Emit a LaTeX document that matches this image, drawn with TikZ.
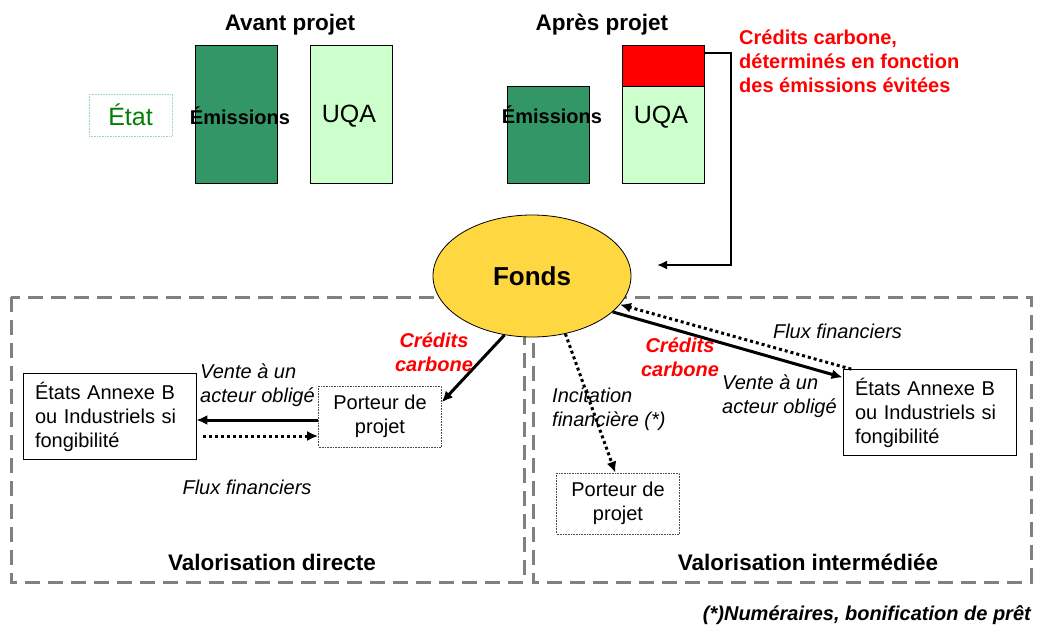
\documentclass[tikz,border=0pt]{standalone}
\usepackage{fontspec}
\setmainfont{Liberation Sans}
\usepackage{xcolor}
\usepackage{tikz}
\usetikzlibrary{shapes.geometric}
\usetikzlibrary{arrows.meta}

\definecolor{emisgreen}{RGB}{51,150,102}
\definecolor{uqagreen}{RGB}{204,255,204}
\definecolor{fondsyellow}{RGB}{255,215,64}
\definecolor{etatgreen}{RGB}{0,128,0}
\definecolor{etatline}{RGB}{160,210,210}
\definecolor{zonegray}{RGB}{128,128,128}

\tikzset{
    colbar/.style = {draw = black, line width = 0.8pt, minimum width = 82pt, inner sep = 0pt},
    headtxt/.style = {font = \fontsize{22.5}{27}\selectfont\bfseries},
    txt/.style = {inner sep = 0pt, font = \fontsize{20}{24}\selectfont},
    itxt/.style = {inner sep = 0pt, font = \fontsize{20}{24}\selectfont\itshape},
    credtxt/.style = {inner sep = 0pt, text = red, align = center,
        font = \fontsize{20}{24}\selectfont\bfseries\itshape},
    statebox/.style = {draw = black, line width = 0.8pt, minimum width = 173pt,
        minimum height = 86pt, text width = 149pt, inner xsep = 12pt, align = left,
        font = \fontsize{20}{24}\selectfont},
    carrier/.style = {draw = black!70, densely dotted, line width = 0.6pt,
        minimum width = 123pt, minimum height = 61pt, align = center,
        font = \fontsize{20}{24}\selectfont},
    zone/.style = {draw = zonegray, line width = 3pt, dash pattern = on 15pt off 8pt},
    sale/.style = {line width = 3pt, -{Latex[length = 11pt, width = 10pt]}},
    flux/.style = {line width = 3pt, dash pattern = on 3pt off 3pt,
        -{Latex[length = 11pt, width = 10pt]}}
}

\begin{document}
\begin{tikzpicture}[x = 1pt, y = -1pt]
        \useasboundingbox (0, 0) rectangle (1037, 627);

        \draw[zone] (11, 297) rectangle (524, 582);
        \draw[zone] (533, 297) rectangle (1031, 582);

        \node[headtxt] (avant) at (290, 25) {Avant projet};
        \node[headtxt] (apres) at (602, 25) {Après projet};

        \node[draw = etatline, densely dotted, line width = 0.6pt, minimum width = 83pt,
            minimum height = 42pt, text = etatgreen, font = \fontsize{25}{30}\selectfont]
            (etat) at (130.5, 115) {État};

        \node[colbar, fill = emisgreen, minimum height = 138pt] (emisA) at (236.5, 114) {};
        \node[colbar, fill = uqagreen, minimum height = 138pt] (uqaA) at (351, 114) {};
        \node[txt, font = \fontsize{20}{24}\selectfont\bfseries] (emisAtxt) at (240, 116) {Émissions};
        \node[txt, font = \fontsize{25}{30}\selectfont] (uqaAtxt) at (349, 116) {UQA};

        \node[colbar, fill = emisgreen, minimum height = 97pt] (emisB) at (548, 134.5) {};
        \node[colbar, fill = red, minimum height = 41pt] (credit) at (663, 65.5) {};
        \node[colbar, fill = uqagreen, minimum height = 97pt] (uqaB) at (663, 134.5) {};
        \node[txt, font = \fontsize{20}{24}\selectfont\bfseries] (emisBtxt) at (552, 115) {Émissions};
        \node[txt, font = \fontsize{25}{30}\selectfont] (uqaBtxt) at (661, 117) {UQA};

        \node[txt, text = red, align = left, anchor = north west,
            font = \fontsize{20}{24}\selectfont\bfseries] (credlegend) at (739, 30)
            {Crédits carbone,\\déterminés en fonction\\des émissions évitées};

        \node[ellipse, draw = black, line width = 0.8pt, fill = fondsyellow,
            minimum width = 198pt, minimum height = 122pt,
            font = \fontsize{26}{31}\selectfont\bfseries] (fonds) at (532, 276) {Fonds};

        \coordinate (turn) at (731, 265);
        \coordinate (fondsin) at (657, 265);
        \draw[line width = 2pt, -{Latex[length = 10pt, width = 9pt]}]
            ([yshift = -8pt]credit.north east) -| (turn) -- (fondsin);

        \node[statebox] (etatsA) at (109.5, 416.5) {États Annexe B\\ou Industriels si\\fongibilité};
        \node[carrier] (porteurA) at (380, 416.5) {Porteur de\\projet};
        \node[statebox] (etatsB) at (929.5, 412.5) {États Annexe B\\ou Industriels si\\fongibilité};
        \node[carrier] (porteurB) at (618, 503.5) {Porteur de\\projet};

        \coordinate (saleA) at ([yshift = -3.5pt]porteurA.west);
        \coordinate (fluxA) at (203, 436);
        \draw[sale] (saleA) -- (saleA -| etatsA.east);
        \draw[flux] (fluxA) -- (fluxA -| porteurA.west);
        \draw[sale] (fonds.245) -- (porteurA.13);
        \draw[sale] (fonds.336) -- (etatsB.158);
        \draw[flux] (etatsB.151) -- (fonds.342);
        \draw[flux] (fonds.300) -- (porteurB.95);

        \node[itxt, align = left, anchor = north west] (venteA) at (200, 364) {Vente à un\\acteur obligé};
        \node[itxt] (fluxAtxt) at (247, 487) {Flux financiers};
        \node[credtxt, anchor = north] (creditsA) at (434, 333) {Crédits\\carbone};
        \node[headtxt] (valdir) at (272, 562) {Valorisation directe};

        \node[itxt, align = left, anchor = north west] (venteB) at (722, 375) {Vente à un\\acteur obligé};
        \node[itxt] (fluxBtxt) at (837.5, 331) {Flux financiers};
        \node[credtxt, anchor = north] (creditsB) at (680, 338) {Crédits\\carbone};
        \node[itxt, align = left, anchor = north west] (incit) at (552, 388) {Incitation\\financière (*)};
        \node[headtxt] (valint) at (808, 562) {Valorisation intermédiée};

        \node[txt, anchor = east, font = \fontsize{20}{24}\selectfont\bfseries\itshape]
            (note) at (1031, 615) {(*)Numéraires, bonification de prêt};
    \end{tikzpicture}
\end{document}
